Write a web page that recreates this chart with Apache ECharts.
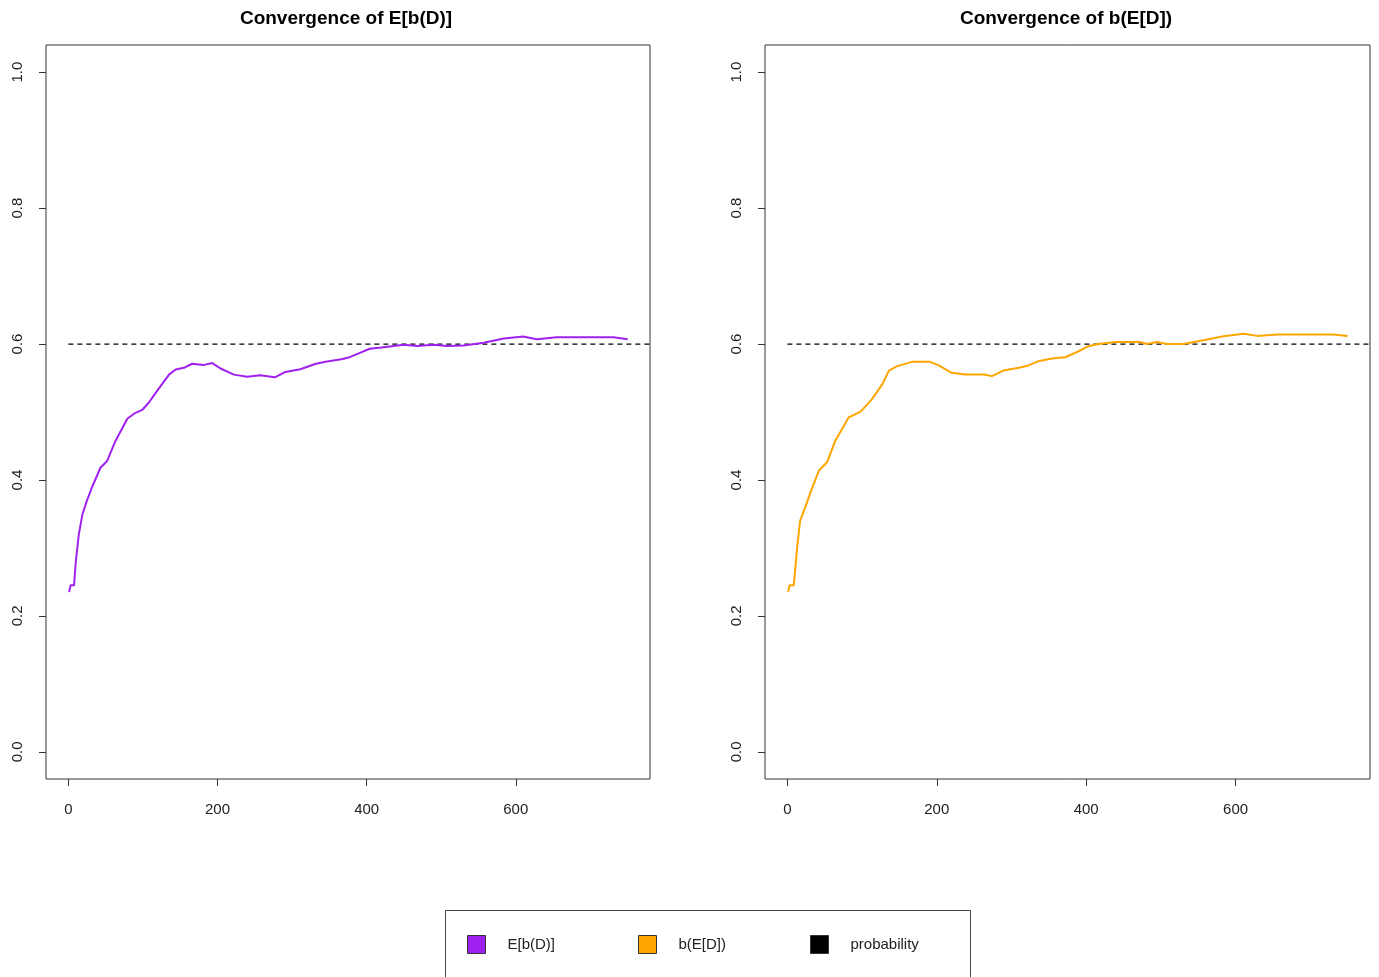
<!DOCTYPE html>
<html><head><meta charset="utf-8">
<script src="https://cdn.jsdelivr.net/npm/echarts@6/dist/echarts.min.js"></script>
<style>html,body{margin:0;padding:0;background:#fff}#c{width:1379px;height:977px}</style>
</head><body><div id="c"></div>
<script>
// ---- data ----
const titles = ['Convergence of E[b(D)]', 'Convergence of b(E[D])'];
const seriesNames = ['E[b(D)]', 'b(E[D])', 'probability'];
const xTicks = [0, 200, 400, 600];
const yTicks = [0, 0.2, 0.4, 0.6, 0.8, 1.0];
const probability = 0.6;
const probX = [0, 780];

const xEb = [1, 3, 7.6, 10, 14, 19, 25, 32, 43, 52, 63, 79, 88, 99, 108, 119, 135, 144, 155, 166, 181, 193, 204, 222, 240, 257, 277, 291, 311, 332, 345, 368, 378, 391, 404, 420, 450, 468, 490, 508, 530, 557, 584, 610, 628, 655, 731, 750];
const yEb = [0.235, 0.245, 0.245, 0.28, 0.32, 0.35, 0.37, 0.39, 0.418, 0.428, 0.457, 0.49, 0.4975, 0.503, 0.514, 0.531, 0.555, 0.5625, 0.565, 0.571, 0.569, 0.572, 0.564, 0.555, 0.552, 0.554, 0.551, 0.559, 0.563, 0.571, 0.574, 0.578, 0.581, 0.587, 0.593, 0.595, 0.599, 0.597, 0.599, 0.597, 0.598, 0.602, 0.608, 0.611, 0.607, 0.61, 0.61, 0.607];

const xBe = [1, 3, 8.5, 13, 17, 24, 31, 42, 53, 64, 82, 98, 113, 127, 136, 147, 167, 191, 202, 220, 238, 263, 274, 289, 310, 323, 336, 354, 372, 390, 403, 416, 440, 472, 481, 495, 508, 530, 557, 584, 611, 629, 656, 731, 750];
const yBe = [0.235, 0.245, 0.245, 0.30, 0.34, 0.36, 0.382, 0.4135, 0.426, 0.4575, 0.492, 0.5005, 0.5186, 0.5406, 0.561, 0.5675, 0.5738, 0.5738, 0.569, 0.5577, 0.5553, 0.5553, 0.5528, 0.561, 0.565, 0.5685, 0.5748, 0.5787, 0.5806, 0.5894, 0.5968, 0.6, 0.603, 0.603, 0.6, 0.603, 0.6, 0.6, 0.6056, 0.6114, 0.615, 0.612, 0.614, 0.614, 0.612];
// --------------------------------------

const pair = (xs, ys) => xs.map((x, i) => [x, ys[i]]);
const FONT = 'Liberation Sans, Arial, sans-serif';
const colors = ['#A020F0', '#FFA500', '#000000'];

const grids = [
  {left: 46, top: 45, width: 604, height: 734},
  {left: 765, top: 45, width: 605, height: 734}
].map(g => Object.assign(g, {show: true, borderColor: '#333', borderWidth: 1, backgroundColor: 'transparent'}));

const xAxes = [0, 1].map(i => ({
  type: 'value', gridIndex: i, min: -30, max: 780, position: 'bottom',
  splitLine: {show: false}, axisLine: {show: false, onZero: false},
  axisTick: {show: true, length: 7, customValues: xTicks, lineStyle: {color: '#333'}},
  axisLabel: {customValues: xTicks, margin: 23, color: '#222', fontFamily: FONT, fontSize: 15}
}));
const yAxes = [0, 1].map(i => ({
  type: 'value', gridIndex: i, min: -0.04, max: 1.04, position: 'left',
  splitLine: {show: false}, axisLine: {show: false, onZero: false},
  axisTick: {show: true, length: 7, customValues: yTicks, lineStyle: {color: '#333'}},
  axisLabel: {customValues: yTicks, rotate: 90, margin: 21, color: '#222', fontFamily: FONT, fontSize: 15,
    formatter: v => v.toFixed(1)}
}));

const lineSeries = (name, data, idx, color) => ({
  name, type: 'line', xAxisIndex: idx, yAxisIndex: idx, data, showSymbol: false, symbol: 'none',
  lineStyle: {color, width: 2}, itemStyle: {color}, animation: false, z: 3
});
const probSeries = idx => ({
  name: seriesNames[2], type: 'line', xAxisIndex: idx, yAxisIndex: idx,
  data: probX.map(x => [x, probability]), showSymbol: false, symbol: 'none',
  lineStyle: {color: '#000', width: 1.2, type: [5, 4]}, itemStyle: {color: '#000'}, animation: false, z: 2
});

const legendLefts = [467, 638, 810];
const legends = seriesNames.map((n, i) => ({
  data: [n], left: legendLefts[i], top: 935, orient: 'horizontal',
  icon: 'rect', itemWidth: 18, itemHeight: 18, padding: 0, selectedMode: false,
  itemStyle: {borderColor: '#333', borderWidth: 1},
  textStyle: {fontFamily: FONT, fontSize: 15, color: '#222', padding: [0, 0, 0, 17]}
}));

const option = {
  backgroundColor: '#fff',
  animation: false,
  title: [
    {text: titles[0], left: 341, top: 4, textAlign: 'center'},
    {text: titles[1], left: 1061, top: 4, textAlign: 'center'}
  ].map(t => Object.assign(t, {textStyle: {fontFamily: FONT, fontWeight: 'bold', fontSize: 19, color: '#000'}})),
  grid: grids,
  xAxis: xAxes,
  yAxis: yAxes,
  legend: legends,
  graphic: [{
    type: 'rect',
    shape: {x: 445.5, y: 910.5, width: 525, height: 80},
    style: {fill: 'none', stroke: '#444', lineWidth: 1}
  }],
  series: [
    lineSeries(seriesNames[0], pair(xEb, yEb), 0, colors[0]),
    probSeries(0),
    lineSeries(seriesNames[1], pair(xBe, yBe), 1, colors[1]),
    probSeries(1)
  ]
};
const chart = echarts.init(document.getElementById('c'), null, {renderer: 'canvas'});
chart.setOption(option);
</script>
</body></html>
